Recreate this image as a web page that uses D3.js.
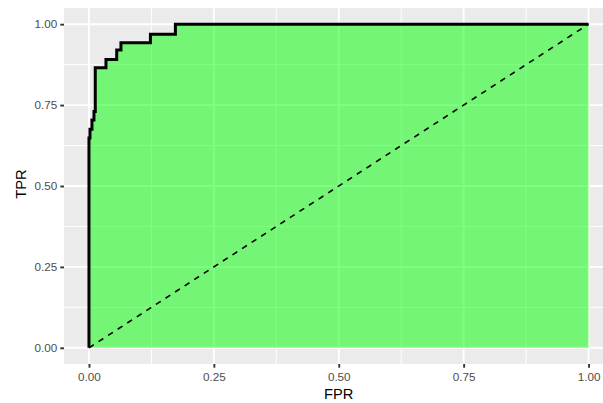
<!DOCTYPE html>
<head>
    <meta charset="utf-8">
    <title>ROC curve</title>
    <style>
        body { margin: 0; background: #fff; }
        text { font-family: "Liberation Sans", Arial, Helvetica, sans-serif; }
        .tick-label { font-size: 11.7px; fill: #4d4d4d; }
        .axis-title { font-size: 14.7px; fill: #000; }
    </style>
    <script src="https://cdn.jsdelivr.net/npm/d3@7"></script>
</head>
<body>
    <script>
        // ROC points (step corners)
        var fpr = [0, 0, 0.002, 0.006, 0.010, 0.0126, 0.034, 0.0555, 0.064, 0.123, 0.173, 1];
        var tpr = [0, 0.648, 0.675, 0.704, 0.730, 0.865, 0.891, 0.920, 0.943, 0.969, 1, 1];
        var xTicks = [0, 0.25, 0.5, 0.75, 1];
        var yTicks = [0, 0.25, 0.5, 0.75, 1];
        var minorTicks = [0.125, 0.375, 0.625, 0.875];

        var W = 603, H = 403;
        var roc = fpr.map(function (f, i) { return { x: f, y: tpr[i] }; });

        var x = d3.scaleLinear().domain([-0.05, 1.05]).range([64, 613.5]);
        var y = d3.scaleLinear().domain([-0.05, 1.05]).range([364, 8]);

        var svg = d3.select("body").append("svg")
            .attr("width", W)
            .attr("height", H);

        // panel
        svg.append("rect")
            .attr("x", x.range()[0]).attr("y", y.range()[1])
            .attr("width", x.range()[1] - x.range()[0])
            .attr("height", y.range()[0] - y.range()[1])
            .attr("fill", "#ebebeb");

        var grid = svg.append("g").attr("id", "grid");
        grid.selectAll("line.vminor").data(minorTicks).enter().append("line")
            .attr("x1", d => x(d)).attr("x2", d => x(d))
            .attr("y1", y.range()[0]).attr("y2", y.range()[1])
            .attr("stroke", "#fff").attr("stroke-width", 0.95);
        grid.selectAll("line.hminor").data(minorTicks).enter().append("line")
            .attr("y1", d => y(d)).attr("y2", d => y(d))
            .attr("x1", x.range()[0]).attr("x2", x.range()[1])
            .attr("stroke", "#fff").attr("stroke-width", 0.95);
        grid.selectAll("line.vmajor").data(xTicks).enter().append("line")
            .attr("x1", d => x(d)).attr("x2", d => x(d))
            .attr("y1", y.range()[0]).attr("y2", y.range()[1])
            .attr("stroke", "#fff").attr("stroke-width", 1.9);
        grid.selectAll("line.hmajor").data(yTicks).enter().append("line")
            .attr("y1", d => y(d)).attr("y2", d => y(d))
            .attr("x1", x.range()[0]).attr("x2", x.range()[1])
            .attr("stroke", "#fff").attr("stroke-width", 1.9);

        // area under curve
        svg.append("path")
            .datum(roc)
            .attr("d", d3.area()
                .curve(d3.curveStepAfter)
                .x(d => x(d.x))
                .y0(y(0))
                .y1(d => y(d.y)))
            .attr("fill", "#00ff00")
            .attr("fill-opacity", 0.5);

        // chance line
        svg.append("line")
            .attr("x1", x(0)).attr("y1", y(0))
            .attr("x2", x(1)).attr("y2", y(1))
            .attr("stroke", "#000")
            .attr("stroke-width", 1.6)
            .attr("stroke-dasharray", "5.7,5.7");

        // ROC curve
        svg.append("path")
            .datum(roc)
            .attr("d", d3.line()
                .curve(d3.curveStepAfter)
                .x(d => x(d.x))
                .y(d => y(d.y)))
            .attr("fill", "none")
            .attr("stroke", "#000")
            .attr("stroke-width", 3);

        // axes
        var xAxis = svg.append("g")
            .attr("transform", "translate(0," + y.range()[0] + ")")
            .call(d3.axisBottom(x).tickValues(xTicks).tickFormat(d3.format(".2f"))
                .tickSize(3.7).tickPadding(4.5));
        var yAxis = svg.append("g")
            .attr("transform", "translate(" + x.range()[0] + ",0)")
            .call(d3.axisLeft(y).tickValues(yTicks).tickFormat(d3.format(".2f"))
                .tickSize(3.7).tickPadding(3));
        [xAxis, yAxis].forEach(function (a) {
            a.select(".domain").remove();
            a.selectAll(".tick line").attr("stroke", "#333").attr("stroke-width", 1.9);
            a.selectAll(".tick text").attr("class", "tick-label")
                .attr("font-family", null).attr("font-size", null).attr("fill", null);
        });

        svg.append("text")
            .attr("class", "axis-title")
            .attr("x", (x.range()[0] + x.range()[1]) / 2)
            .attr("y", 399)
            .attr("text-anchor", "middle")
            .text("FPR");

        svg.append("text")
            .attr("class", "axis-title")
            .attr("transform", "translate(25.5," + ((y.range()[0] + y.range()[1]) / 2 - 2) + ") rotate(-90)")
            .attr("text-anchor", "middle")
            .text("TPR");
    </script>
</body>
